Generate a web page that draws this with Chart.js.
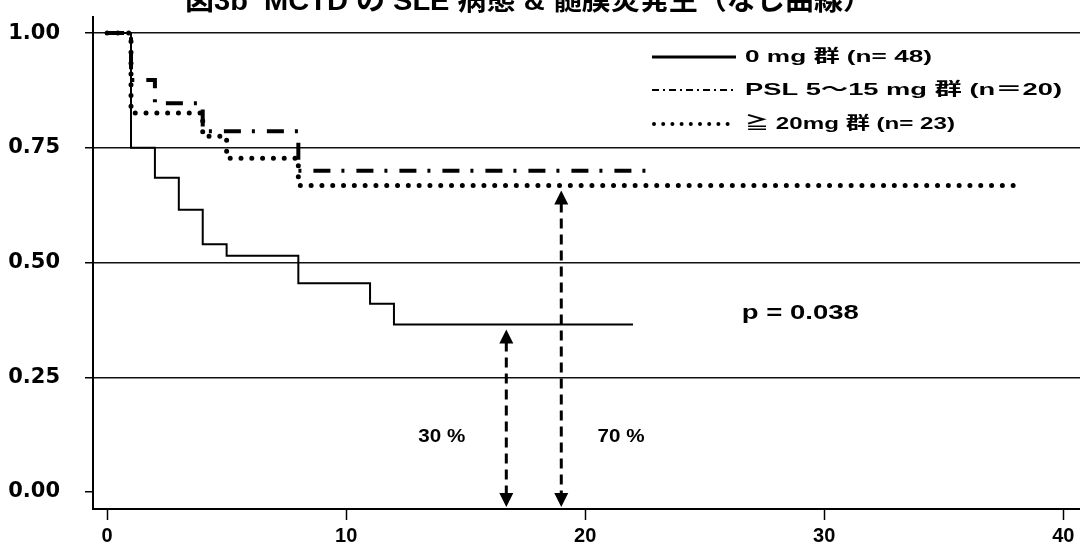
<!DOCTYPE html>
<html lang="ja">
<head>
<meta charset="utf-8">
<title>図3b MCTD の SLE 病態 & 髄膜炎発生</title>
<script src="https://cdn.jsdelivr.net/npm/chart.js@4.4.1/dist/chart.umd.min.js"></script>
<style>
    html, body { margin: 0; padding: 0; background: #fff; }
    #wrap { width: 1080px; height: 552px; }
</style>
</head>
<body>
<div id="wrap"><canvas id="km-chart" width="1080" height="552"></canvas></div>
<script>
// Kaplan-Meier steps per steroid dose group (months, survival fraction)
const timeNone = [0, 1, 2, 3, 4, 5, 8, 11, 12, 22];
const survNone = [1.0, 0.75, 0.685, 0.615, 0.54, 0.515, 0.455, 0.41, 0.365, 0.365];

const timeMid = [0, 1, 2, 4, 8, 22.6];
const survMid = [1.0, 0.898, 0.847, 0.786, 0.70, 0.70];

const timeHigh = [0, 1, 4, 5, 8, 38];
const survHigh = [1.0, 0.826, 0.775, 0.727, 0.668, 0.668];

const groupLabels = ['0 mg 群 (n= 48)', 'PSL 5〜15 mg 群 (n＝20)', '≧ 20mg 群 (n= 23)'];

const xTicks = [0, 10, 20, 30, 40];
const yTicks = [0, 0.25, 0.5, 0.75, 1.0];

// event-free share marked by the arrows
const arrowX = [16.7, 19];
const arrowLabels = ['30 %', '70 %'];
const arrowLabelX = [14.0, 21.5];
const pText = 'p = 0.038';
const titleText = '図3b  MCTD の SLE 病態 & 髄膜炎発生（なし曲線）';

const FONT = '"Liberation Sans", "Noto Sans CJK JP", sans-serif';

function toPoints(xs, ys) {
    return xs.map((x, i) => ({ x, y: ys[i] }));
}

// text squeezed/stretched horizontally to a given width
function wideText(ctx, text, x, y, size, width, align, baseline) {
    ctx.save();
    ctx.font = `bold ${size}px ${FONT}`;
    const natural = ctx.measureText(text).width;
    const sx = width ? width / natural : 1;
    ctx.translate(x, y);
    ctx.scale(sx, 1);
    ctx.textAlign = align || 'left';
    ctx.textBaseline = baseline || 'middle';
    ctx.fillStyle = '#000';
    ctx.fillText(text, 0, 0);
    ctx.restore();
}

function arrowHead(ctx, x, tipY, dir) {
    ctx.beginPath();
    ctx.moveTo(x, tipY);
    ctx.lineTo(x - 7, tipY - dir * 14);
    ctx.lineTo(x + 7, tipY - dir * 14);
    ctx.closePath();
    ctx.fill();
}

const overlay = {
    id: 'overlay',
    afterDatasetsDraw(chart) {
        const { ctx, scales: { x, y }, chartArea } = chart;
        ctx.save();
        ctx.fillStyle = '#000';
        ctx.strokeStyle = '#000';

        // double arrows from the final curve level down to the axis
        const tops = [survNone[survNone.length - 1], survHigh[survHigh.length - 1]];
        arrowX.forEach((v, i) => {
            const px = x.getPixelForValue(v);
            const top = y.getPixelForValue(tops[i]) + 5;
            const bottom = chartArea.bottom - 2;
            ctx.lineWidth = 3;
            ctx.setLineDash([10, 6]);
            ctx.beginPath();
            ctx.moveTo(px, top + 12);
            ctx.lineTo(px, bottom - 12);
            ctx.stroke();
            ctx.setLineDash([]);
            arrowHead(ctx, px, top, -1);
            arrowHead(ctx, px, bottom, 1);
            wideText(ctx, arrowLabels[i], x.getPixelForValue(arrowLabelX[i]), y.getPixelForValue(0.12), 18, 47, 'center');
        });

        wideText(ctx, pText, x.getPixelForValue(29.0), y.getPixelForValue(0.39), 21, 117, 'center');

        // legend
        const lx0 = 652, lx1 = 736;
        const rows = [57, 90, 124];
        ctx.lineWidth = 3;
        ctx.beginPath();
        ctx.moveTo(lx0, rows[0]);
        ctx.lineTo(lx1, rows[0]);
        ctx.stroke();

        ctx.lineWidth = 2;
        ctx.setLineDash([7, 4, 2, 4]);
        ctx.beginPath();
        ctx.moveTo(lx0, rows[1]);
        ctx.lineTo(lx1, rows[1]);
        ctx.stroke();

        ctx.lineWidth = 4;
        ctx.lineCap = 'round';
        ctx.setLineDash([0, 9.2]);
        ctx.beginPath();
        ctx.moveTo(lx0 + 2, rows[2]);
        ctx.lineTo(lx1, rows[2]);
        ctx.stroke();
        ctx.setLineDash([]);
        ctx.lineCap = 'butt';

        const widths = [187, 317, 210];
        groupLabels.forEach((t, i) => wideText(ctx, t, 745, rows[i], 17, widths[i], 'left'));

        // title, cut by the top edge
        wideText(ctx, titleText, 185, 10, 28, 687, 'left', 'alphabetic');
        ctx.restore();
    }
};

const lineBase = {
    borderColor: '#000',
    pointRadius: 0,
    fill: false,
    stepped: true,
    borderJoinStyle: 'miter'
};

new Chart(document.getElementById('km-chart'), {
    type: 'line',
    data: {
        datasets: [
            Object.assign({}, lineBase, {
                label: groupLabels[2],
                data: toPoints(timeHigh, survHigh),
                borderWidth: 5,
                borderDash: [0, 10.8],
                borderCapStyle: 'round'
            }),
            Object.assign({}, lineBase, {
                label: groupLabels[1],
                data: toPoints(timeMid, survMid),
                borderWidth: 4,
                borderDash: [17, 11, 3, 12]
            }),
            Object.assign({}, lineBase, {
                label: groupLabels[0],
                data: toPoints(timeNone, survNone),
                borderWidth: 2
            })
        ]
    },
    options: {
        responsive: false,
        animation: false,
        layout: { padding: { top: 17, right: 0, left: 0, bottom: 0 } },
        plugins: {
            legend: { display: false },
            tooltip: { enabled: false }
        },
        scales: {
            x: {
                type: 'linear',
                min: -0.59,
                max: 40.7,
                afterBuildTicks: (s) => { s.ticks = xTicks.map(v => ({ value: v })); },
                afterFit: (s) => { s.height = 43; s.paddingLeft = 0; s.paddingRight = 0; },
                grid: {
                    drawOnChartArea: false,
                    drawTicks: true,
                    tickLength: 11,
                    tickColor: '#000',
                    tickWidth: 1.5
                },
                border: { display: true, color: '#000', width: 2 },
                ticks: {
                    color: '#000',
                    padding: 4,
                    maxRotation: 0,
                    font: { family: FONT, size: 20, weight: 'bold' }
                }
            },
            y: {
                type: 'linear',
                min: -0.037,
                max: 1.035,
                afterBuildTicks: (s) => { s.ticks = yTicks.map(v => ({ value: v })); },
                afterFit: (s) => { s.width = 93; s.paddingTop = 0; s.paddingBottom = 0; },
                grid: {
                    color: (c) => (c.tick && c.tick.value === 0 ? 'rgba(0,0,0,0)' : '#111'),
                    lineWidth: 1.5,
                    drawTicks: true,
                    tickLength: 8,
                    tickColor: '#000',
                    tickWidth: 1.5
                },
                border: { display: true, color: '#000', width: 2 },
                ticks: {
                    color: '#000',
                    padding: 25,
                    font: { family: '"DejaVu Sans", sans-serif', size: 21, weight: 'bold' },
                    callback: (v) => Number(v).toFixed(2)
                }
            }
        }
    },
    plugins: [overlay]
});
</script>
</body>
</html>
